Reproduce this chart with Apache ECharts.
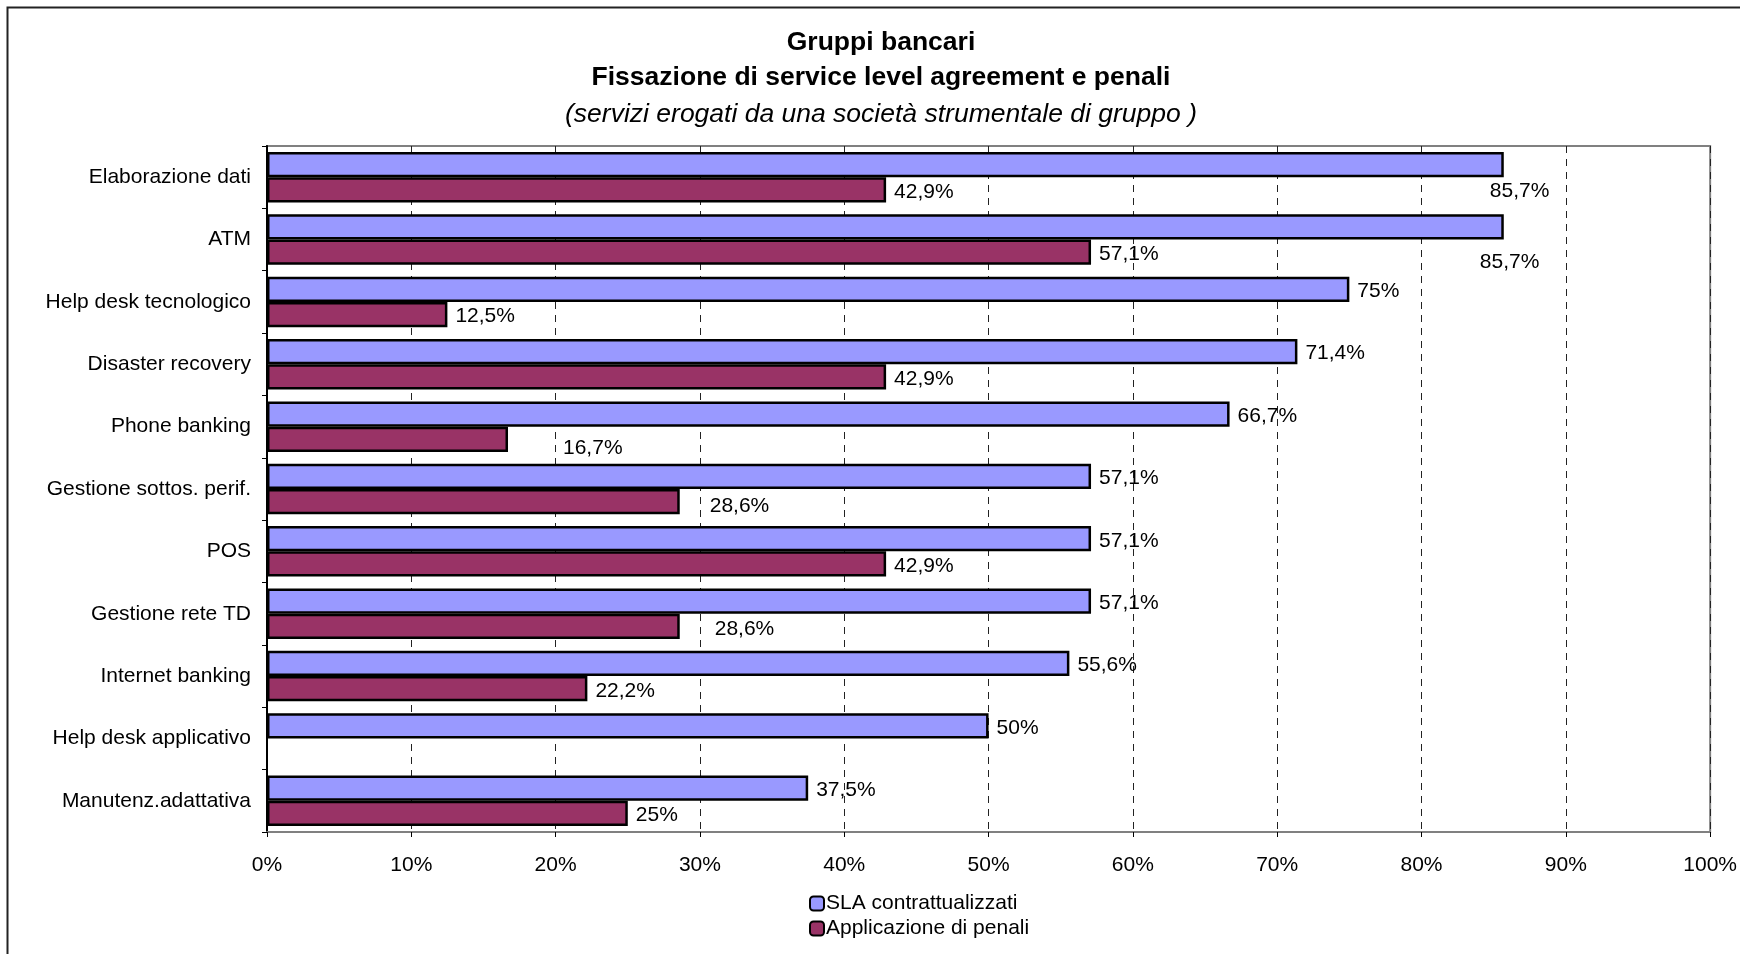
<!DOCTYPE html>
<html>
<head>
<meta charset="utf-8">
<script src="https://cdn.jsdelivr.net/npm/echarts@6/dist/echarts.min.js"></script>
<style>
html,body{margin:0;padding:0;background:#fff;}
#chart{width:1740px;height:954px;}
</style>
</head>
<body>
<div id="chart"></div>
<script>
const categories = ['Elaborazione dati','ATM','Help desk tecnologico','Disaster recovery','Phone banking','Gestione sottos. perif.','POS','Gestione rete TD','Internet banking','Help desk applicativo','Manutenz.adattativa'];
const slaValues = [85.7, 85.7, 75, 71.4, 66.7, 57.1, 57.1, 57.1, 55.6, 50, 37.5];
const penaliValues = [42.9, 57.1, 12.5, 42.9, 16.7, 28.6, 42.9, 28.6, 22.2, null, 25];
const seriesNames = ['SLA contrattualizzati', 'Applicazione di penali'];
const titleLines = ['Gruppi bancari', 'Fissazione di service level agreement e penali'];
const subtitle = '(servizi erogati da una società strumentale di gruppo )';

const FONT = "'Liberation Sans', Arial, sans-serif";
const fmtPct = v => String(v).replace('.', ',') + '%';

// manual label nudges as in the original chart
const slaLabelNudge = {0: [-22, 27], 1: [-32, 35]};
const penLabelNudge = {4: [47, 9], 5: [22, 5], 7: [27, 3]};

function buildData(values, nudge) {
  return values.map((v, i) => {
    const item = {value: v};
    item.label = {offset: nudge[i] || [0, 2]};
    return item;
  });
}

const chart = echarts.init(document.getElementById('chart'), null, {renderer: 'canvas'});
const labelCommon = {
  show: true, position: 'right', distance: 8,
  fontFamily: FONT, fontSize: 21, color: '#000',
  formatter: p => fmtPct(p.value)
};
chart.setOption({
  animation: false,
  backgroundColor: '#fff',
  textStyle: {fontFamily: FONT},
  graphic: [{
    type: 'rect', silent: true, z: 100,
    shape: {x: 7.5, y: 7.5, width: 1800, height: 1000},
    style: {fill: 'none', stroke: '#222', lineWidth: 2}
  }],
  title: {
    text: titleLines.join('\n'),
    subtext: subtitle,
    left: 881, top: 25, textAlign: 'center', padding: 0, itemGap: 2,
    textStyle: {fontFamily: FONT, fontSize: 26.5, fontWeight: 'bold', color: '#000', lineHeight: 35},
    subtextStyle: {fontFamily: FONT, fontSize: 26.5, fontStyle: 'italic', color: '#000', lineHeight: 35}
  },
  legend: {
    orient: 'vertical', left: 809, top: 893,
    itemWidth: 14, itemHeight: 14, itemGap: 4, padding: 0,
    textStyle: {fontFamily: FONT, fontSize: 21, color: '#000', lineHeight: 21, padding: [0, 0, 0, -3]},
    data: seriesNames
  },
  grid: {
    left: 267, right: 25, top: 146, bottom: 122,
    show: true, borderColor: '#808080', borderWidth: 2, backgroundColor: '#fff'
  },
  xAxis: {
    type: 'value', min: 0, max: 100, interval: 10,
    axisLine: {show: true, lineStyle: {color: '#808080', width: 2}},
    axisTick: {show: true, length: 5, lineStyle: {color: '#000'}},
    axisLabel: {margin: 23, fontFamily: FONT, fontSize: 21, color: '#000', formatter: v => v + '%'},
    splitLine: {show: true, lineStyle: {color: '#222', type: [7, 6], width: 1}}
  },
  yAxis: {
    type: 'category', inverse: true, data: categories,
    axisLine: {show: true, lineStyle: {color: '#000', width: 2}},
    axisTick: {show: true, length: 5, lineStyle: {color: '#000'}},
    axisLabel: {margin: 16, fontFamily: FONT, fontSize: 21, color: '#000'}
  },
  series: [
    {
      name: seriesNames[0], type: 'bar', barGap: '0%', barCategoryGap: '19%',
      itemStyle: {color: '#9999FF', borderColor: '#000', borderWidth: 2.5},
      label: labelCommon,
      data: buildData(slaValues, slaLabelNudge)
    },
    {
      name: seriesNames[1], type: 'bar', barGap: '0%', barCategoryGap: '19%',
      itemStyle: {color: '#993366', borderColor: '#000', borderWidth: 2.5},
      label: labelCommon,
      data: buildData(penaliValues, penLabelNudge)
    }
  ]
});
</script>
</body>
</html>
